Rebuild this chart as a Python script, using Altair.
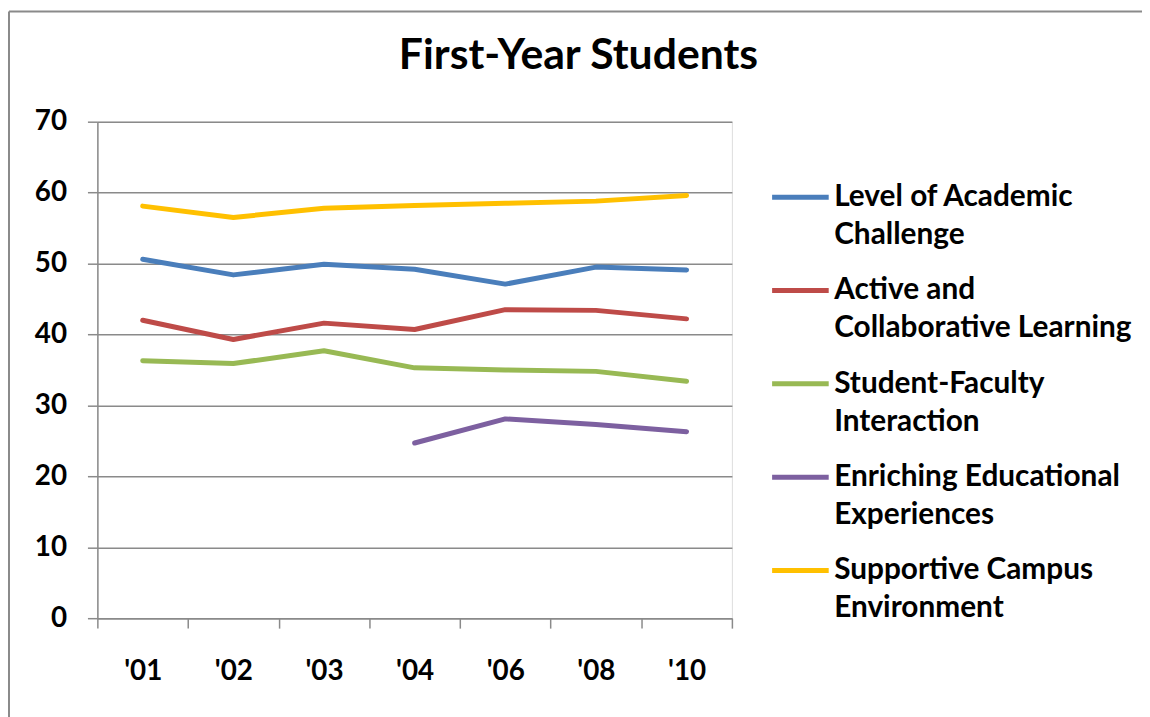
import altair as alt
import pandas as pd

years = ["'01", "'02", "'03", "'04", "'06", "'08", "'10"]
series = [
    "Level of Academic Challenge",
    "Active and Collaborative Learning",
    "Student-Faculty Interaction",
    "Enriching Educational Experiences",
    "Supportive Campus Environment",
]
academic = [50.6, 48.4, 49.9, 49.2, 47.1, 49.5, 49.1]
active = [42.0, 39.3, 41.6, 40.7, 43.5, 43.4, 42.2]
student_faculty = [36.3, 35.9, 37.7, 35.3, 35.0, 34.8, 33.4]
enriching = [None, None, None, 24.7, 28.1, 27.3, 26.3]
supportive = [58.1, 56.5, 57.8, 58.2, 58.5, 58.8, 59.6]
colors = ["#4A7EBB", "#BE4B48", "#98B954", "#7D60A0", "#FFC000"]
label_lines = {
    "Level of Academic Challenge": ["Level of Academic", "Challenge"],
    "Active and Collaborative Learning": ["Active and", "Collaborative Learning"],
    "Student-Faculty Interaction": ["Student-Faculty", "Interaction"],
    "Enriching Educational Experiences": ["Enriching Educational", "Experiences"],
    "Supportive Campus Environment": ["Supportive Campus", "Environment"],
}

rows = []
for name, vals in zip(series, [academic, active, student_faculty, enriching, supportive]):
    for y, v in zip(years, vals):
        if v is not None:
            rows.append({"Year": y, "Series": name, "Value": v})
df = pd.DataFrame(rows)

FONT = "Lato"
GRAY = "#8a8a8a"

label_expr = "{" + ", ".join(
    "'%s': ['%s', '%s']" % (k, v[0], v[1]) for k, v in label_lines.items()
) + "}[datum.label]"

lines = alt.Chart(df).mark_line(strokeWidth=5, strokeCap="round", strokeJoin="round").encode(
    x=alt.X("Year:N", sort=years, title=None,
            scale=alt.Scale(paddingInner=0, paddingOuter=0),
            axis=alt.Axis(labelAngle=0, tickBand="extent", tickSize=10, labelPadding=30,
                          domainColor=GRAY, domainWidth=1.5, tickColor=GRAY, tickWidth=1.5,
                          grid=False, labelFont=FONT, labelFontSize=28, labelFontWeight="bold",
                          labelColor="black")),
    y=alt.Y("Value:Q", title=None,
            scale=alt.Scale(domain=[0, 70]),
            axis=alt.Axis(values=[0, 10, 20, 30, 40, 50, 60, 70], tickSize=10, labelPadding=21,
                          domainColor=GRAY, domainWidth=1.5, tickColor=GRAY, tickWidth=1.5,
                          gridColor=GRAY, gridWidth=1.5, labelFont=FONT, labelFontSize=28,
                          labelFontWeight="bold", labelColor="black")),
    color=alt.Color("Series:N", sort=series,
                    scale=alt.Scale(domain=series, range=colors),
                    legend=alt.Legend(title=None, orient="none", legendX=677, legendY=45,
                                      symbolType="stroke", symbolSize=3249, symbolStrokeWidth=5,
                                      labelOffset=3, labelFont=FONT, labelFontSize=30,
                                      labelFontWeight="bold", labelColor="black",
                                      labelLimit=500, labelExpr=label_expr,
                                      rowPadding=10, padding=0)),
)

frame_df = pd.DataFrame({"k": [0]})
frame_left = alt.Chart(frame_df).mark_rule(color=GRAY, strokeWidth=2).encode(
    x=alt.value(-89), y=alt.value(-111), y2=alt.value(620))
frame_top = alt.Chart(frame_df).mark_rule(color=GRAY, strokeWidth=2).encode(
    x=alt.value(-89), x2=alt.value(1100), y=alt.value(-111))

chart = alt.layer(frame_left, frame_top, lines).properties(
    width=639, height=500,
    autosize=alt.AutoSizeParams(type="none"),
    padding={"left": 90, "top": 112, "right": 413, "bottom": 97},
    title=alt.Title("First-Year Students", font=FONT, fontSize=43, fontWeight="bold",
                    color="black", anchor="middle", dx=165, offset=0, dy=102,
                    baseline="alphabetic"),
).configure_view(stroke=None).configure(
    style={"guide-label": {"lineHeight": 38}}
)

chart.save("out.html", embed_options={"renderer": "svg", "actions": False})
